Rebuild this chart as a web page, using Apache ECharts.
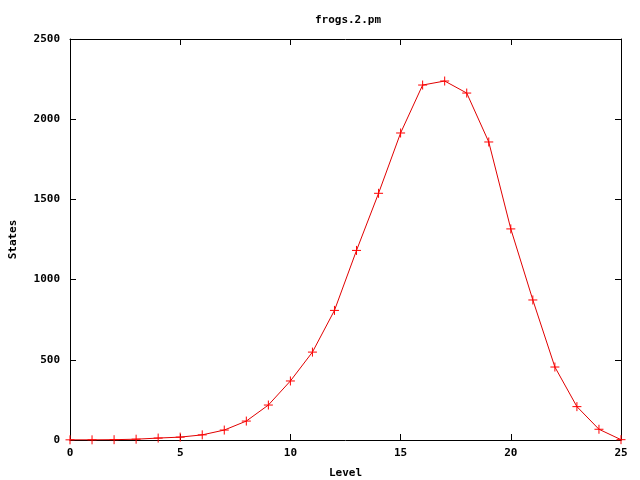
<!DOCTYPE html>
<html><head><meta charset="utf-8">
<script src="https://cdn.jsdelivr.net/npm/echarts@6/dist/echarts.min.js"></script>
<style>html,body{margin:0;padding:0;background:#fff}#c{width:640px;height:480px}</style>
</head><body><div id="c"></div>
<script>
var levels = [0,1,2,3,4,5,6,7,8,9,10,11,12,13,14,15,16,17,18,19,20,21,22,23,24,25];
var states = [1,1,2,5,12,18,32,62,118,218,368,548,808,1182,1538,1914,2213,2238,2163,1858,1316,873,455,208,67,2];
var xTicks = [0,5,10,15,20,25];
var yTicks = [0,500,1000,1500,2000,2500];

var font = 'DejaVu Sans Mono';
var chart = echarts.init(document.getElementById('c'), null, {renderer:'canvas'});
var data = levels.map(function(l,i){return [l, states[i]];});
var lbl = {color:'#000', fontFamily:font, fontWeight:'bold', fontSize:11};
function axisLine(){ return {show:true, onZero:false, lineStyle:{color:'#000', width:1}}; }
function tick(){ return {show:true, inside:true, length:6, lineStyle:{color:'#000'}}; }
chart.setOption({
  animation:false,
  backgroundColor:'#fff',
  title:{text:'frogs.2.pm', left:343, top:10, textAlign:'center',
    textStyle:{color:'#000', fontFamily:font, fontWeight:'bold', fontSize:11}},
  grid:{left:70, right:19, top:39, bottom:40, containLabel:false, outerBoundsMode:'none'},
  xAxis:[{type:'value', min:xTicks[0], max:xTicks[xTicks.length-1], interval:5,
    name:'Level', nameLocation:'middle', nameGap:28, nameTextStyle:lbl,
    axisLine:axisLine(), axisTick:tick(), splitLine:{show:false},
    axisLabel:Object.assign({margin:8}, lbl)},
    {type:'value', position:'top', min:0, max:25, interval:5,
    axisLine:axisLine(), axisTick:tick(), splitLine:{show:false}, axisLabel:{show:false}}],
  yAxis:[{type:'value', min:yTicks[0], max:yTicks[yTicks.length-1], interval:500,
    name:'States', nameLocation:'middle', nameGap:51, nameRotate:90, nameTextStyle:lbl,
    axisLine:axisLine(), axisTick:tick(), splitLine:{show:false},
    axisLabel:Object.assign({margin:10, formatter:function(v){return String(v);}}, lbl)},
    {type:'value', position:'right', min:0, max:2500, interval:500,
    axisLine:axisLine(), axisTick:tick(), splitLine:{show:false}, axisLabel:{show:false}}],
  series:[{type:'line', data:data, xAxisIndex:0, yAxisIndex:0,
    symbol:'path://M0,5L10,5M5,0L5,10', symbolSize:9, showAllSymbol:true,
    lineStyle:{color:'#e00000', width:1},
    itemStyle:{color:'#ff0000', borderColor:'#ff0000', borderWidth:1},
    z:3}]
});
</script></body></html>
